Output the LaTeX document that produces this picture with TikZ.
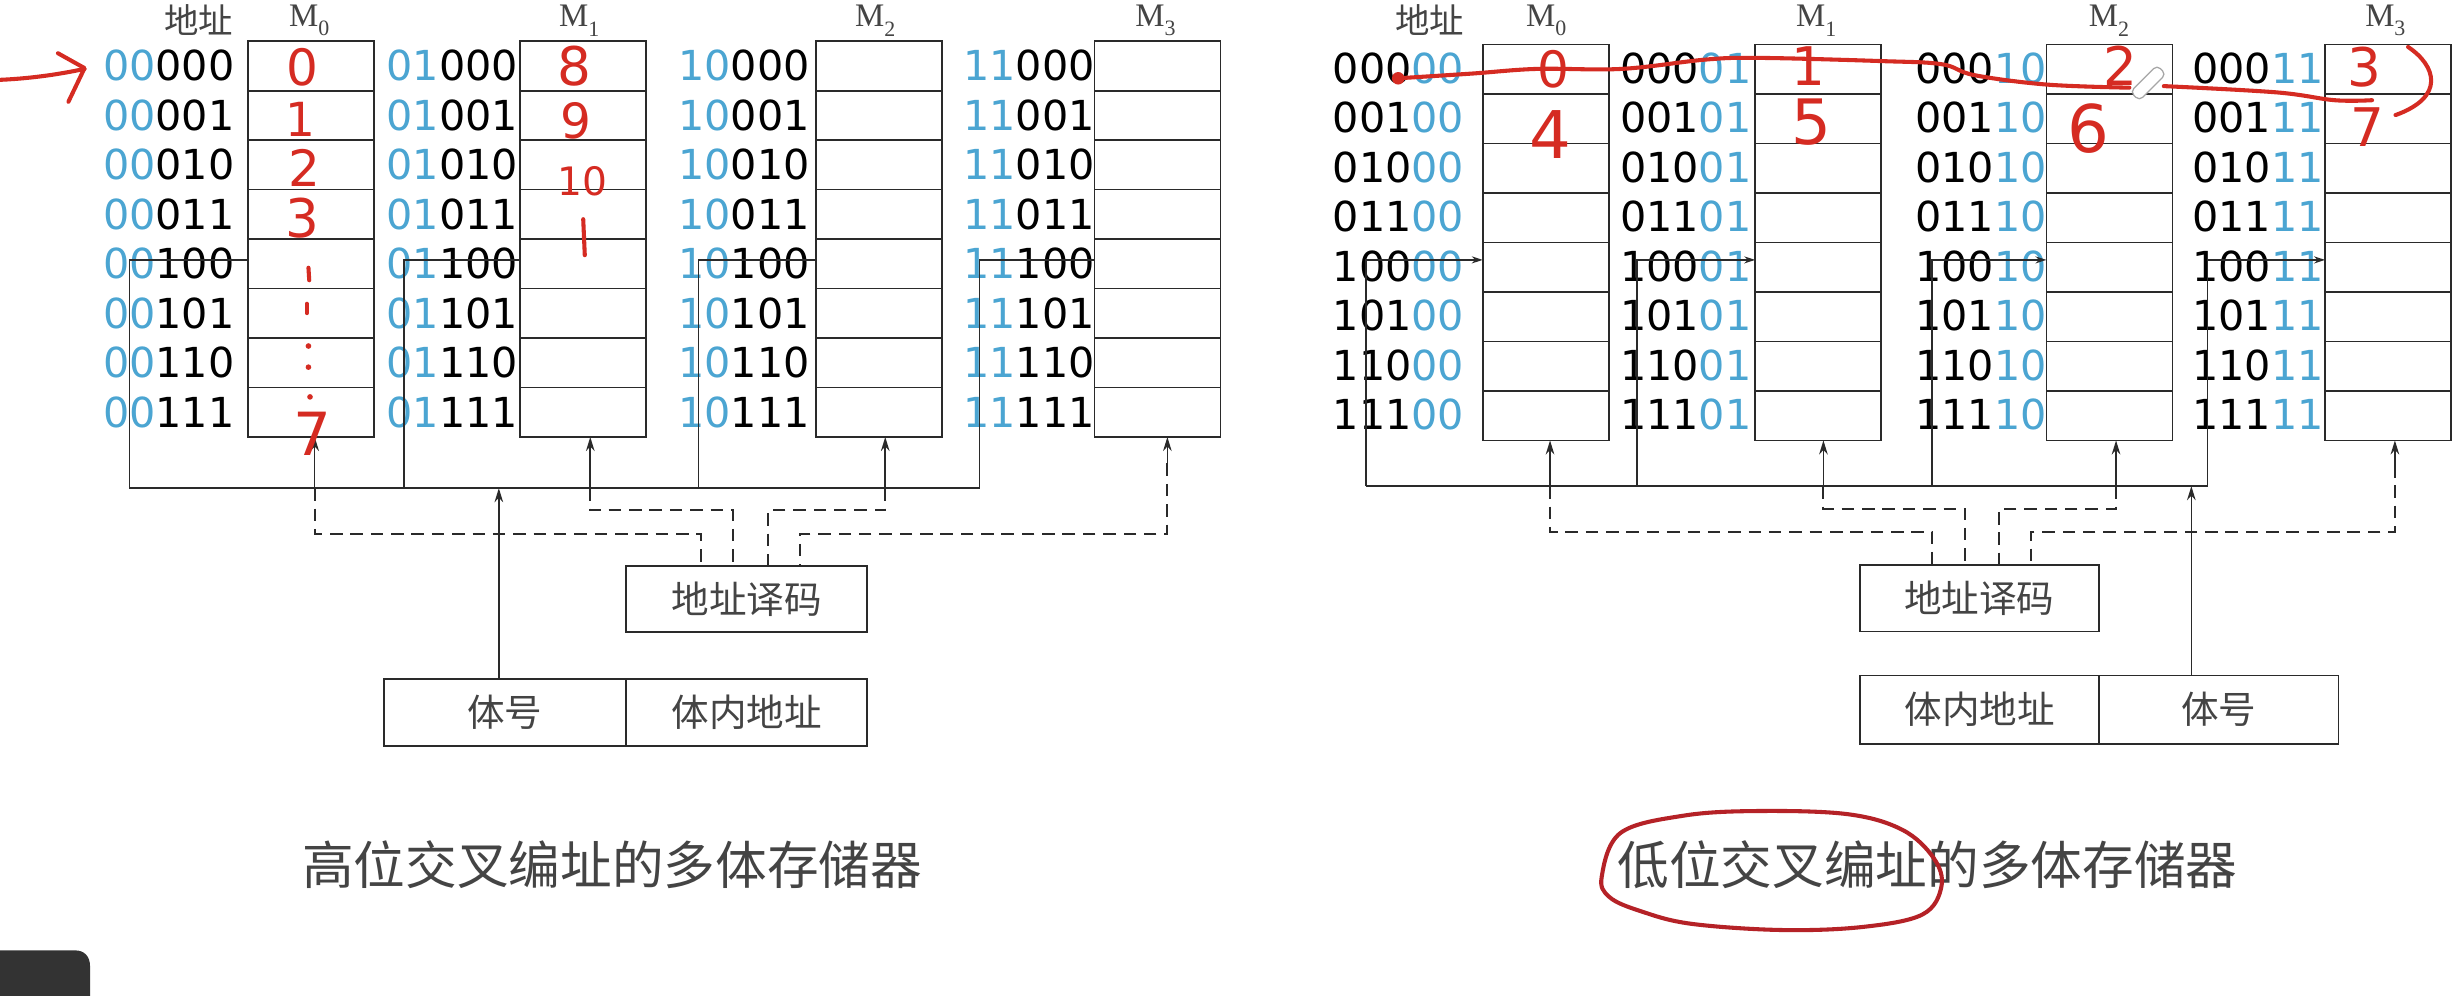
\documentclass[tikz,border=0pt]{standalone}
\usepackage{fontspec}
\setmainfont{DejaVu Sans}
\newfontfamily\cjk{Noto Sans CJK SC}
\newfontfamily\serifM{Liberation Serif}
\usetikzlibrary{arrows.meta}
\definecolor{addrblue}{HTML}{4BA5D2}
\definecolor{linec}{HTML}{2A2A2A}
\definecolor{labc}{HTML}{444444}
\definecolor{pen}{HTML}{D52B22}
\definecolor{penD}{HTML}{B52227}
\definecolor{uidark}{HTML}{333333}
\newcommand\myfs[1]{\fontsize{#1}{#1}\selectfont}
\begin{document}
\begin{tikzpicture}[x=1pt,y=-1pt,
  wire/.style={line width=1pt, draw=linec},
  dsh/.style={line width=1.3pt, draw=linec, dash pattern=on 8pt off 5pt},
  arr/.style={wire, -{Stealth[length=9pt,width=5.5pt]}},
  sarr/.style={wire, -{Stealth[length=7pt,width=4.5pt]}},
  cell/.style={draw=linec, line width=1.1pt, minimum width=80.5pt, minimum height=31.6pt, inner sep=0pt, outer sep=0pt},
  addr/.style={font=\myfs{26.4}, inner sep=0pt, anchor=west, text=black},
  mlab/.style={font=\serifM\myfs{21}, text=labc, inner sep=0pt},
  cjklab/.style={font=\cjk\myfs{22}, text=labc, inner sep=0pt},
  boxc/.style={draw=linec, line width=1.2pt, font=\cjk\myfs{24}, text=labc, inner sep=0pt, outer sep=0pt},
  title/.style={font=\cjk\myfs{33}, text=labc, inner sep=0pt},
  hand/.style={text=pen, inner sep=0pt},
  ink/.style={draw=pen, line width=2.6pt, line cap=round, line join=round},
]
\useasboundingbox (0,0) rectangle (1568,636);
\fill[white] (0,0) rectangle (1568,636);

% ================= LEFT: high-order interleaving =================
\foreach \n/\bx in {0/158.5,1/332,2/521,3/699} {
  \foreach \i in {0,...,7} {
    \node[cell, anchor=north west] (LM\n-\i) at (\bx, 26.3+\i*31.6) {};
  }
}
\foreach \n/\ax/\p in {0/65.6/00,1/246.7/01,2/433/10,3/615/11} {
  \foreach \b [count=\i from 0] in {000,001,010,011,100,101,110,111} {
    \node[addr] (LA\n-\i) at (\ax, 42.1+\i*31.6) {\textcolor{addrblue}{\p}\b};
  }
}
\node[cjklab] (Ldz) at (127,13) {地址};
\node[mlab] (LlM0) at (197.5,13) {M\raisebox{-0.3em}{\myfs{14}0}};
\node[mlab] (LlM1) at (370,13) {M\raisebox{-0.3em}{\myfs{14}1}};
\node[mlab] (LlM2) at (559,13) {M\raisebox{-0.3em}{\myfs{14}2}};
\node[mlab] (LlM3) at (738,13) {M\raisebox{-0.3em}{\myfs{14}3}};

\coordinate (Lrow) at (0,166);
\coordinate (LB0) at (82.7,311.8);
\coordinate (LB1) at (258,311.8);
\coordinate (LB2) at (446,311.8);
\coordinate (LB3) at (625.5,311.8);
\coordinate (LB4) at (318.6,311.8);
\coordinate (Lh0) at (LM0-4.west |- Lrow);
\coordinate (Lh1) at (LM1-4.west |- Lrow);
\coordinate (Lh2) at (LM2-4.west |- Lrow);
\coordinate (Lh3) at (LM3-4.west |- Lrow);
\draw[wire] (Lh0) -| (LB0) -- (LB3) |- (Lh3);
\draw[wire] (Lh1) -| (LB1);
\draw[wire] (Lh2) -| (LB2);

\coordinate (LaM0) at (201,311.8);
\coordinate (LaM1) at (377,311.8);
\coordinate (LaM2) at (565.4,311.8);
\coordinate (LaM3) at (745.6,296);
\draw[arr] (LaM0) -- (LaM0 |- LM0-7.south);
\draw[arr] (LaM1) -- (LaM1 |- LM1-7.south);
\draw[arr] (LaM2) -- (LaM2 |- LM2-7.south);
\draw[arr] (LaM3) -- (LaM3 |- LM3-7.south);

\node[boxc, minimum width=154pt, minimum height=42.2pt] (Ldec) at (477,382.7) {地址译码};
\coordinate (LlA) at (0,326);
\coordinate (LlB) at (0,341);
\coordinate (Ld1) at (448,361.6);
\coordinate (Ld2) at (468,361.6);
\coordinate (Ld3) at (490.5,361.6);
\coordinate (Ld4) at (511,361.6);
\draw[dsh] (LaM0) -- (LaM0 |- LlB) -| (Ld1);
\draw[dsh] (LaM1) -- (LaM1 |- LlA) -| (Ld2);
\draw[dsh] (LaM2) -- (LaM2 |- LlA) -| (Ld3);
\draw[dsh] (LaM3) -- (LaM3 |- LlB) -| (Ld4);

\node[boxc, minimum width=155pt, minimum height=43pt] (Lnum) at (322.5,455.1) {体号};
\node[boxc, minimum width=154pt, minimum height=43pt] (Lin) at (477,455.1) {体内地址};
\draw[arr] (Lnum.north -| LB4) -- (LB4);

\node[title] (Lt) at (391,552) {高位交叉编址的多体存储器};

% ================= RIGHT: low-order interleaving =================
\foreach \n/\bx in {0/947,1/1121,2/1307,3/1485} {
  \foreach \i in {0,...,7} {
    \node[cell, anchor=north west] (RM\n-\i) at (\bx, 28.5+\i*31.6) {};
  }
}
\foreach \n/\ax/\p in {0/851/00,1/1034.5/01,2/1223/10,3/1400/11} {
  \foreach \b [count=\i from 0] in {000,001,010,011,100,101,110,111} {
    \node[addr] (RA\n-\i) at (\ax, 43.5+\i*31.6) {\b\textcolor{addrblue}{\p}};
  }
}
\node[cjklab] (Rdz) at (913,13) {地址};
\node[mlab] (RlM0) at (987.5,13) {M\raisebox{-0.3em}{\myfs{14}0}};
\node[mlab] (RlM1) at (1160,13) {M\raisebox{-0.3em}{\myfs{14}1}};
\node[mlab] (RlM2) at (1347,13) {M\raisebox{-0.3em}{\myfs{14}2}};
\node[mlab] (RlM3) at (1523.5,13) {M\raisebox{-0.3em}{\myfs{14}3}};

\coordinate (Rrow) at (0,166);
\coordinate (RB0) at (872.6,310.5);
\coordinate (RB1) at (1045.5,310.5);
\coordinate (RB2) at (1234,310.5);
\coordinate (RB3) at (1410,310.5);
\coordinate (RB4) at (1399.6,310.5);
\coordinate (Rh0) at (RM0-4.west |- Rrow);
\coordinate (Rh1) at (RM1-4.west |- Rrow);
\coordinate (Rh2) at (RM2-4.west |- Rrow);
\coordinate (Rh3) at (RM3-4.west |- Rrow);
\draw[wire] (RB0) -- (RB3);
\draw[sarr] (RB0) |- (Rh0);
\draw[sarr] (RB1) |- (Rh1);
\draw[sarr] (RB2) |- (Rh2);
\draw[sarr] (RB3) |- (Rh3);

\coordinate (RaM0) at (990,310.5);
\coordinate (RaM1) at (1164.6,310.5);
\coordinate (RaM2) at (1351.5,310.5);
\coordinate (RaM3) at (1529.6,297);
\draw[arr] (RaM0) -- (RaM0 |- RM0-7.south);
\draw[arr] (RaM1) -- (RaM1 |- RM1-7.south);
\draw[arr] (RaM2) -- (RaM2 |- RM2-7.south);
\draw[arr] (RaM3) -- (RaM3 |- RM3-7.south);

\node[boxc, minimum width=152.8pt, minimum height=42.7pt] (Rdec) at (1264.2,382) {地址译码};
\coordinate (RlA) at (0,324.8);
\coordinate (RlB) at (0,339.7);
\coordinate (Rd1) at (1234,360.65);
\coordinate (Rd2) at (1255,360.65);
\coordinate (Rd3) at (1277,360.65);
\coordinate (Rd4) at (1297,360.65);
\draw[dsh] (RaM0) -- (RaM0 |- RlB) -| (Rd1);
\draw[dsh] (RaM1) -- (RaM1 |- RlA) -| (Rd2);
\draw[dsh] (RaM2) -- (RaM2 |- RlA) -| (Rd3);
\draw[dsh] (RaM3) -- (RaM3 |- RlB) -| (Rd4);

\node[boxc, minimum width=152.7pt, minimum height=43.6pt] (Rin) at (1264.35,453.2) {体内地址};
\node[boxc, minimum width=152.9pt, minimum height=43.6pt] (Rnum) at (1417.15,453.2) {体号};
\draw[arr] (Rnum.north -| RB4) -- (RB4);

\node[title] (Rt) at (1231,552) {低位交叉编址的多体存储器};

% ================= red handwriting =================
\draw[ink] (0,51) .. controls (22,50) and (40,47) .. (54,44);
\draw[ink] (37,34) -- (54,43.5) -- (43.7,65);
\node[hand, font=\myfs{32}] (h0) at (193,43) {0};
\node[hand, font=\myfs{30}] (h1) at (192,76) {1};
\node[hand, font=\myfs{32}] (h2) at (194.5,107) {2};
\node[hand, font=\myfs{34}] (h3) at (193,139) {3};
\draw[ink] (197,171) -- (197.5,179);
\draw[ink] (196,194) -- (196,200);
\fill[pen] (197,221) circle[radius=1.8pt];
\fill[pen] (197,234.5) circle[radius=1.8pt];
\fill[pen] (198,253.5) circle[radius=1.8pt];
\node[hand, font=\myfs{38}] (h7) at (199.5,277) {7};
\node[hand, font=\myfs{34}] (h8) at (367,42) {8};
\node[hand, font=\myfs{31}] (h9) at (368,77) {9};
\node[hand, font=\myfs{25}] (h10) at (372,115.5) {10};
\draw[ink] (372.5,140) -- (373.5,163);

\draw[ink] plot[smooth, tension=0.6] coordinates {(893,50) (940,47) (982,44) (1036,44) (1090,38) (1125,37) (1201,39) (1240,41) (1261,48) (1307,54) (1360,56)};
\draw[ink] plot[smooth, tension=0.6] coordinates {(1382,55) (1454,59) (1491,64) (1515,64)};
\fill[pen] (893,50) circle[radius=4pt];
\node[hand, font=\myfs{32}] (r0) at (992,44) {0};
\node[hand, font=\myfs{42}] (r4) at (990,86) {4};
\node[hand, font=\myfs{34}] (r1) at (1155,42) {1};
\node[hand, font=\myfs{40}] (r5) at (1157,78) {5};
\node[hand, font=\myfs{34}] (r2) at (1354,42) {2};
\node[hand, font=\myfs{42}] (r6) at (1334,82) {6};
\node[hand, font=\myfs{34}] (r3) at (1510,43) {3};
\node[hand, font=\myfs{34}] (r7) at (1512,81) {7};
\draw[ink] (1538,30) .. controls (1556,42) and (1562,62) .. (1530,73.5);
\node[draw=gray!70, fill=white, line width=0.8pt, rounded corners=3pt, minimum width=24pt, minimum height=8pt, inner sep=0pt, rotate=45] (pencil) at (1372,53) {};

\draw[ink, draw=penD] plot[smooth cycle, tension=0.6] coordinates {(1023,560) (1035,532) (1075,521) (1122,518) (1180,520) (1215,530) (1235,548) (1240,566) (1228,584) (1190,592) (1138,594) (1080,590) (1048,582) (1028,573)};

% UI corner element
\fill[uidark] (0,607) -- (48,607) .. controls (54,607) and (57.5,611) .. (57.5,617) -- (57.5,636) -- (0,636) -- cycle;
\end{tikzpicture}
\end{document}
